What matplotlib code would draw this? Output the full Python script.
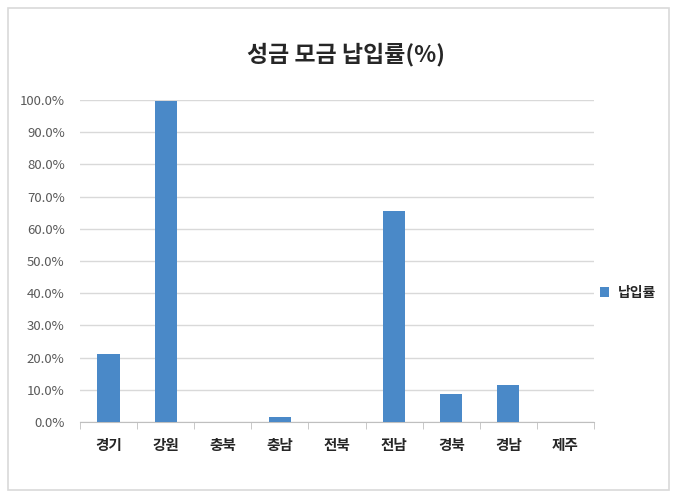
import matplotlib
matplotlib.use("Agg")
import matplotlib.pyplot as plt
from matplotlib.patches import Rectangle
from matplotlib.ticker import FuncFormatter, MultipleLocator

plt.rcParams['font.family'] = ['Noto Sans CJK KR', 'DejaVu Sans']

categories = ['경기', '강원', '충북', '충남', '전북', '전남', '경북', '경남', '제주']
values = [21.1, 99.7, 0.0, 1.5, 0.0, 65.5, 8.7, 11.5, 0.0]
title = '성금 모금 납입률(%)'
series_name = '납입률'

W, H = 676, 500
fig = plt.figure(figsize=(W/100, H/100), dpi=100)
fig.patch.set_facecolor('white')
# outer border
fig.add_artist(Rectangle((8/W, 1-490/H), 661/W, 482/H, transform=fig.transFigure,
                         fill=False, edgecolor='#d9d9d9', linewidth=1.2))

ax = fig.add_axes([80/W, 1-422/H, 514/W, 322/H])
x = list(range(len(categories)))
bars = ax.bar(x, values, width=0.39, color='#4a89c8', label=series_name, zorder=3)
ax.set_xlim(-0.5, len(categories)-0.5)
ax.set_ylim(0, 100)
ax.yaxis.set_major_locator(MultipleLocator(10))
ax.yaxis.set_major_formatter(FuncFormatter(lambda v, p: f'{v:.1f}%'))
ax.grid(axis='y', color='#d9d9d9', linewidth=1, zorder=0)
for s in ['top', 'right', 'left']:
    ax.spines[s].set_visible(False)
ax.spines['bottom'].set_color('#bfbfbf')
ax.tick_params(axis='y', length=0, labelsize=9.5, labelcolor='#595959', pad=11)
ax.set_xticks(x)
ax.set_xticklabels(categories, fontsize=10.5, fontweight='bold', color='#262626')
ax.set_xticks([i - 0.5 for i in range(len(categories)+1)], minor=True)
ax.tick_params(axis='x', which='major', length=0, pad=11)
ax.tick_params(axis='x', which='minor', length=5, color='#bfbfbf')

fig.text(346/W, 1-55/H, title, ha='center', va='center', fontsize=16.5, fontweight='semibold', color='#262626')

leg = ax.legend(loc='center left', bbox_to_anchor=(587/W, 1-293/H), bbox_transform=fig.transFigure,
                frameon=False, fontsize=10, handlelength=0.7, handleheight=0.7, handletextpad=0.6)
for t in leg.get_texts():
    t.set_fontweight('bold')
    t.set_color('#262626')

fig.savefig('out.png', dpi=100, facecolor='white')
